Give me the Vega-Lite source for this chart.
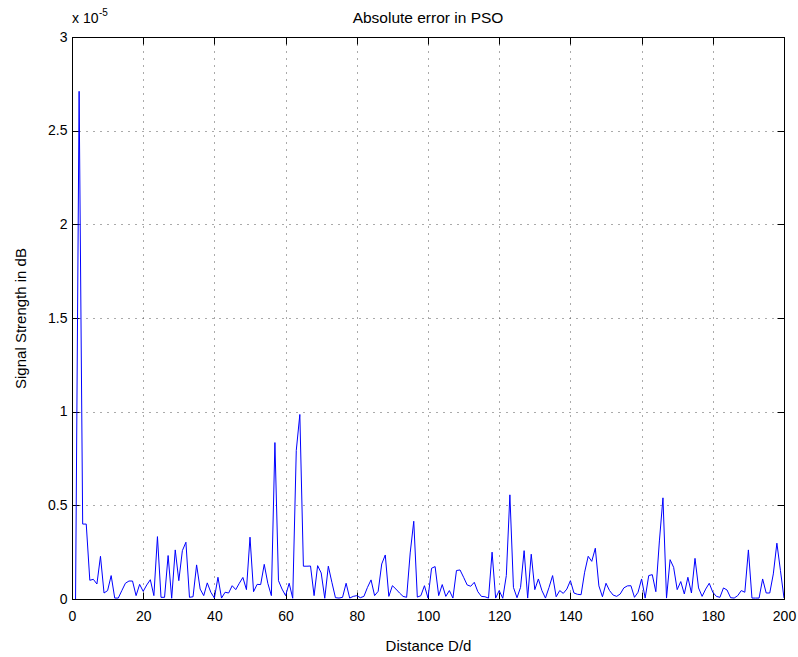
{
  "$schema": "https://vega.github.io/schema/vega-lite/v6.json",
  "autosize": {"type": "none"},
  "padding": {"left": 72, "top": 37, "right": 14, "bottom": 58},
  "width": 712,
  "height": 562,
  "background": "white",
  "datasets": {
    "pso_error": [
      {"distance": 1, "error": 0}, {"distance": 2, "error": 2.71}, {"distance": 3, "error": 0.40}, {"distance": 4, "error": 0.40},
      {"distance": 5, "error": 0.10}, {"distance": 6, "error": 0.105}, {"distance": 7, "error": 0.08}, {"distance": 8, "error": 0.228},
      {"distance": 9, "error": 0.032}, {"distance": 10, "error": 0.045}, {"distance": 11, "error": 0.125}, {"distance": 12, "error": 0.005},
      {"distance": 13, "error": 0.005}, {"distance": 14, "error": 0.045}, {"distance": 15, "error": 0.084}, {"distance": 16, "error": 0.096},
      {"distance": 17, "error": 0.096}, {"distance": 18, "error": 0.018}, {"distance": 19, "error": 0.078}, {"distance": 20, "error": 0.041},
      {"distance": 21, "error": 0.075}, {"distance": 22, "error": 0.103}, {"distance": 23, "error": 0.018}, {"distance": 24, "error": 0.333},
      {"distance": 25, "error": 0.009}, {"distance": 26, "error": 0.009}, {"distance": 27, "error": 0.232}, {"distance": 28, "error": 0.004},
      {"distance": 29, "error": 0.262}, {"distance": 30, "error": 0.098}, {"distance": 31, "error": 0.258}, {"distance": 32, "error": 0.303},
      {"distance": 33, "error": 0.009}, {"distance": 34, "error": 0.012}, {"distance": 35, "error": 0.182}, {"distance": 36, "error": 0.053},
      {"distance": 37, "error": 0.018}, {"distance": 38, "error": 0.086}, {"distance": 39, "error": 0.036}, {"distance": 40, "error": 0.005},
      {"distance": 41, "error": 0.116}, {"distance": 42, "error": 0.005}, {"distance": 43, "error": 0.036}, {"distance": 44, "error": 0.032},
      {"distance": 45, "error": 0.071}, {"distance": 46, "error": 0.05}, {"distance": 47, "error": 0.084}, {"distance": 48, "error": 0.115},
      {"distance": 49, "error": 0.05}, {"distance": 50, "error": 0.33}, {"distance": 51, "error": 0.039}, {"distance": 52, "error": 0.078},
      {"distance": 53, "error": 0.077}, {"distance": 54, "error": 0.185}, {"distance": 55, "error": 0.084}, {"distance": 56, "error": 0.018},
      {"distance": 57, "error": 0.835}, {"distance": 58, "error": 0.098}, {"distance": 59, "error": 0.053}, {"distance": 60, "error": 0.018},
      {"distance": 61, "error": 0.084}, {"distance": 62, "error": 0.004}, {"distance": 63, "error": 0.793}, {"distance": 64, "error": 0.985},
      {"distance": 65, "error": 0.175}, {"distance": 66, "error": 0.175}, {"distance": 67, "error": 0.176}, {"distance": 68, "error": 0.018},
      {"distance": 69, "error": 0.178}, {"distance": 70, "error": 0.139}, {"distance": 71, "error": 0.004}, {"distance": 72, "error": 0.175},
      {"distance": 73, "error": 0.089}, {"distance": 74, "error": 0.007}, {"distance": 75, "error": 0.005}, {"distance": 76, "error": 0.009},
      {"distance": 77, "error": 0.084}, {"distance": 78, "error": 0.005}, {"distance": 79, "error": 0.014}, {"distance": 80, "error": 0.018},
      {"distance": 81, "error": 0.007}, {"distance": 82, "error": 0.014}, {"distance": 83, "error": 0.062}, {"distance": 84, "error": 0.102},
      {"distance": 85, "error": 0.018}, {"distance": 86, "error": 0.041}, {"distance": 87, "error": 0.187}, {"distance": 88, "error": 0.235},
      {"distance": 89, "error": 0.014}, {"distance": 90, "error": 0.071}, {"distance": 91, "error": 0.053}, {"distance": 92, "error": 0.032},
      {"distance": 93, "error": 0.014}, {"distance": 94, "error": 0.009}, {"distance": 95, "error": 0.246}, {"distance": 96, "error": 0.415},
      {"distance": 97, "error": 0.01}, {"distance": 98, "error": 0.018}, {"distance": 99, "error": 0.071}, {"distance": 100, "error": 0.005},
      {"distance": 101, "error": 0.164}, {"distance": 102, "error": 0.173}, {"distance": 103, "error": 0.018}, {"distance": 104, "error": 0.077},
      {"distance": 105, "error": 0.014}, {"distance": 106, "error": 0.045}, {"distance": 107, "error": 0.005}, {"distance": 108, "error": 0.152},
      {"distance": 109, "error": 0.155}, {"distance": 110, "error": 0.116}, {"distance": 111, "error": 0.075}, {"distance": 112, "error": 0.068},
      {"distance": 113, "error": 0.089}, {"distance": 114, "error": 0.039}, {"distance": 115, "error": 0.014}, {"distance": 116, "error": 0.012},
      {"distance": 117, "error": 0.005}, {"distance": 118, "error": 0.25}, {"distance": 119, "error": 0.005}, {"distance": 120, "error": 0.045},
      {"distance": 121, "error": 0.004}, {"distance": 122, "error": 0.125}, {"distance": 123, "error": 0.556}, {"distance": 124, "error": 0.062},
      {"distance": 125, "error": 0.007}, {"distance": 126, "error": 0.062}, {"distance": 127, "error": 0.258}, {"distance": 128, "error": 0.005},
      {"distance": 129, "error": 0.239}, {"distance": 130, "error": 0.05}, {"distance": 131, "error": 0.107}, {"distance": 132, "error": 0.045},
      {"distance": 133, "error": 0.005}, {"distance": 134, "error": 0.062}, {"distance": 135, "error": 0.125}, {"distance": 136, "error": 0.012},
      {"distance": 137, "error": 0.045}, {"distance": 138, "error": 0.03}, {"distance": 139, "error": 0.053}, {"distance": 140, "error": 0.098},
      {"distance": 141, "error": 0.032}, {"distance": 142, "error": 0.025}, {"distance": 143, "error": 0.023}, {"distance": 144, "error": 0.143},
      {"distance": 145, "error": 0.228}, {"distance": 146, "error": 0.201}, {"distance": 147, "error": 0.271}, {"distance": 148, "error": 0.07},
      {"distance": 149, "error": 0.012}, {"distance": 150, "error": 0.084}, {"distance": 151, "error": 0.045}, {"distance": 152, "error": 0.021},
      {"distance": 153, "error": 0.014}, {"distance": 154, "error": 0.027}, {"distance": 155, "error": 0.059}, {"distance": 156, "error": 0.07},
      {"distance": 157, "error": 0.071}, {"distance": 158, "error": 0.009}, {"distance": 159, "error": 0.036}, {"distance": 160, "error": 0.107},
      {"distance": 161, "error": 0.005}, {"distance": 162, "error": 0.125}, {"distance": 163, "error": 0.13}, {"distance": 164, "error": 0.039},
      {"distance": 165, "error": 0.31}, {"distance": 166, "error": 0.54}, {"distance": 167, "error": 0.005}, {"distance": 168, "error": 0.21},
      {"distance": 169, "error": 0.169}, {"distance": 170, "error": 0.05}, {"distance": 171, "error": 0.093}, {"distance": 172, "error": 0.027},
      {"distance": 173, "error": 0.116}, {"distance": 174, "error": 0.032}, {"distance": 175, "error": 0.217}, {"distance": 176, "error": 0.059},
      {"distance": 177, "error": 0.014}, {"distance": 178, "error": 0.053}, {"distance": 179, "error": 0.084}, {"distance": 180, "error": 0.036},
      {"distance": 181, "error": 0.014}, {"distance": 182, "error": 0.009}, {"distance": 183, "error": 0.059}, {"distance": 184, "error": 0.048},
      {"distance": 185, "error": 0.007}, {"distance": 186, "error": 0.005}, {"distance": 187, "error": 0.018}, {"distance": 188, "error": 0.045},
      {"distance": 189, "error": 0.036}, {"distance": 190, "error": 0.262}, {"distance": 191, "error": 0.005}, {"distance": 192, "error": 0.005},
      {"distance": 193, "error": 0.005}, {"distance": 194, "error": 0.107}, {"distance": 195, "error": 0.032}, {"distance": 196, "error": 0.032},
      {"distance": 197, "error": 0.134}, {"distance": 198, "error": 0.298}, {"distance": 199, "error": 0.152}, {"distance": 200, "error": 0.005}
    ],
    "annotations": [{"heading": "Absolute error in PSO", "base": "x 10", "power": "-5"}]
  },
  "layer": [
    {
      "data": {"name": "pso_error"},
      "mark": {"type": "line", "color": "#0000ff", "strokeWidth": 1, "clip": true},
      "encoding": {
        "x": {
          "field": "distance",
          "type": "quantitative",
          "scale": {"domain": [0, 200], "nice": false, "zero": false},
          "axis": {
            "orient": "bottom",
            "title": "Distance D/d",
            "values": [0, 20, 40, 60, 80, 100, 120, 140, 160, 180, 200],
            "grid": true,
            "labelPadding": 17,
            "titlePadding": 15
          }
        },
        "y": {
          "field": "error",
          "type": "quantitative",
          "scale": {"domain": [0, 3], "nice": false, "zero": false},
          "axis": {
            "orient": "left",
            "title": "Signal Strength in dB",
            "values": [0, 0.5, 1, 1.5, 2, 2.5, 3],
            "format": "~g",
            "grid": true,
            "labelPadding": 12,
            "titlePadding": 19
          }
        }
      }
    },
    {
      "data": {"name": "annotations"},
      "mark": {"type": "text", "align": "left", "baseline": "alphabetic", "fontSize": 14, "font": "Liberation Sans", "color": "black", "dy": -14},
      "encoding": {
        "text": {"field": "base"},
        "x": {
          "datum": 0,
          "type": "quantitative",
          "scale": {"domain": [0, 200], "nice": false, "zero": false},
          "axis": {"orient": "top", "title": null, "labels": false, "grid": false, "values": [0, 20, 40, 60, 80, 100, 120, 140, 160, 180, 200]}
        },
        "y": {
          "datum": 3,
          "type": "quantitative",
          "scale": {"domain": [0, 3], "nice": false, "zero": false},
          "axis": {"orient": "right", "title": null, "labels": false, "grid": false, "values": [0, 0.5, 1, 1.5, 2, 2.5, 3]}
        }
      }
    },
    {
      "data": {"name": "annotations"},
      "mark": {"type": "text", "align": "left", "baseline": "alphabetic", "fontSize": 10, "font": "Liberation Sans", "color": "black", "dx": 27, "dy": -21},
      "encoding": {
        "text": {"field": "power"},
        "x": {"datum": 0, "type": "quantitative", "scale": {"domain": [0, 200], "nice": false, "zero": false}, "axis": null},
        "y": {"datum": 3, "type": "quantitative", "scale": {"domain": [0, 3], "nice": false, "zero": false}, "axis": null}
      }
    },
    {
      "data": {"name": "annotations"},
      "mark": {"type": "text", "align": "center", "baseline": "alphabetic", "fontSize": 15.5, "font": "Liberation Sans", "color": "black", "dy": -14},
      "encoding": {
        "text": {"field": "heading"},
        "x": {"datum": 100, "type": "quantitative", "scale": {"domain": [0, 200], "nice": false, "zero": false}, "axis": null},
        "y": {"datum": 3, "type": "quantitative", "scale": {"domain": [0, 3], "nice": false, "zero": false}, "axis": null}
      }
    }
  ],
  "resolve": {"axis": {"x": "independent", "y": "independent"}},
  "config": {
    "font": "Liberation Sans",
    "view": {"stroke": "black", "strokeWidth": 1},
    "axis": {
      "domainColor": "black",
      "domainWidth": 1,
      "tickColor": "black",
      "tickWidth": 1,
      "tickSize": -7,
      "labelFont": "Liberation Sans",
      "labelFontSize": 14,
      "labelColor": "black",
      "labelFlush": false,
      "labelOverlap": false,
      "titleFont": "Liberation Sans",
      "titleFontSize": 15,
      "titleFontWeight": "normal",
      "titleColor": "black",
      "gridColor": "#555555",
      "gridDash": [1, 6],
      "gridWidth": 1,
      "gridOpacity": 1
    }
  }
}
